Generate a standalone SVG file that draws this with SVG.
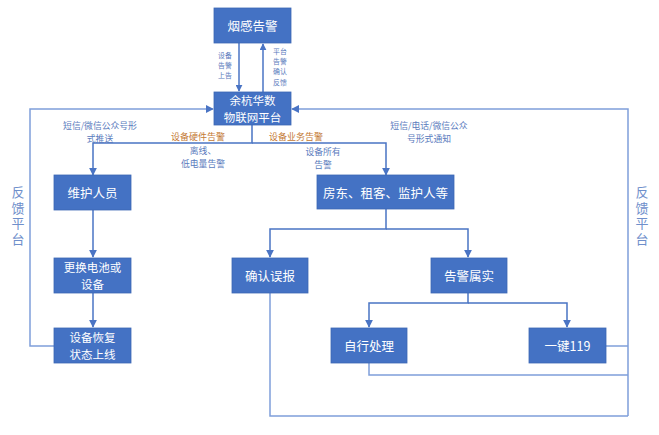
<svg xmlns="http://www.w3.org/2000/svg" width="659" height="435" viewBox="0 0 659 435">
<style>
.box{fill:#4472c4;stroke:#3d68b5;stroke-width:0.8}
.bt{font-family:"Noto Sans CJK SC","Noto Sans",sans-serif;font-size:12.5px;fill:#ffffff;text-anchor:middle;dominant-baseline:central}
.b2{font-family:"Noto Sans CJK SC","Noto Sans",sans-serif;font-size:11.5px;fill:#ffffff;text-anchor:middle;dominant-baseline:central}
.lb{font-family:"Noto Sans CJK SC","Noto Sans",sans-serif;font-size:8.8px;fill:#5a7bbd;text-anchor:middle;dominant-baseline:central}
.sm{font-family:"Noto Sans CJK SC","Noto Sans",sans-serif;font-size:6.9px;fill:#5a7bbd;text-anchor:middle;dominant-baseline:central}
.or{font-family:"Noto Sans CJK SC","Noto Sans",sans-serif;font-size:9px;fill:#c47a35;text-anchor:middle;dominant-baseline:central}
.side{font-family:"Noto Sans CJK SC","Noto Sans",sans-serif;font-size:13px;fill:#6f8fcb;letter-spacing:2.5px;writing-mode:vertical-rl}
.ln{fill:none;stroke:#4a74c4;stroke-width:1.5}
.fb{fill:none;stroke:#7f9fda;stroke-width:1.5}
</style>
<defs>
<marker id="ah" viewBox="0 0 10 10" refX="9" refY="5" markerWidth="7" markerHeight="7" markerUnits="userSpaceOnUse" orient="auto">
<path d="M0,0 L10,5 L0,10 z" fill="#4a74c4"/>
</marker>
<marker id="ah2" viewBox="0 0 10 10" refX="9" refY="5" markerWidth="8" markerHeight="8" markerUnits="userSpaceOnUse" orient="auto">
<path d="M0,0 L10,5 L0,10 z" fill="#4a74c4"/>
</marker>
</defs>
<g id="connectors">
<path class="ln" d="M239,43 V91" marker-end="url(#ah)"/>
<path class="ln" d="M263,92 V44" marker-end="url(#ah)"/>
<path class="ln" d="M252,125 V143 H93 V175" marker-end="url(#ah2)"/>
<path class="ln" d="M252,143 H386 V175" marker-end="url(#ah2)"/>
<path class="ln" d="M93,210 V257" marker-end="url(#ah2)"/>
<path class="ln" d="M93,293 V327" marker-end="url(#ah2)"/>
<path class="fb" d="M54,346 H30 V109 H213" marker-end="url(#ah2)"/>
<path class="fb" d="M628,416 V109 H292" marker-end="url(#ah2)"/>
<path class="ln" d="M386,209 V229 H270 V257" marker-end="url(#ah2)"/>
<path class="ln" d="M386,229 H468 V257" marker-end="url(#ah2)"/>
<path class="ln" d="M468,293 V303 H369 V327" marker-end="url(#ah2)"/>
<path class="ln" d="M468,303 H567 V327" marker-end="url(#ah2)"/>
<path class="fb" d="M270,293 V416 H628"/>
<path class="fb" d="M369,363 V375 H628"/>
<path class="fb" d="M606,346 H628"/>
</g>
<g id="n-smoke"><rect class="box" x="214" y="8" width="77" height="35"/><text class="bt" x="252.5" y="25.5">烟感告警</text></g>
<g id="n-platform"><rect class="box" x="214" y="92" width="77" height="33"/><text class="b2" x="252.5" y="100.2">余杭华数<tspan x="252.5" dy="16.8">物联网平台</tspan></text></g>
<g id="n-maint"><rect class="box" x="54" y="175" width="77" height="35"/><text class="bt" x="92.5" y="192.5">维护人员</text></g>
<g id="n-replace"><rect class="box" x="54" y="258" width="77" height="35"/><text class="b2" x="92.5" y="267.1">更换电池或<tspan x="92.5" dy="16.8">设备</tspan></text></g>
<g id="n-restore"><rect class="box" x="54" y="328" width="77" height="35"/><text class="b2" x="92.5" y="337.1">设备恢复<tspan x="92.5" dy="16.8">状态上线</tspan></text></g>
<g id="n-owner"><rect class="box" x="317" y="175" width="137" height="34"/><text class="bt" x="385.5" y="192">房东、租客、监护人等</text></g>
<g id="n-false"><rect class="box" x="232" y="258" width="76" height="35"/><text class="bt" x="270" y="275.5">确认误报</text></g>
<g id="n-true"><rect class="box" x="431" y="258" width="76" height="35"/><text class="bt" x="469" y="275.5">告警属实</text></g>
<g id="n-self"><rect class="box" x="331" y="328" width="76" height="35"/><text class="bt" x="369" y="345.5">自行处理</text></g>
<g id="n-119"><rect class="box" x="529" y="328" width="77" height="35"/><text class="bt" x="567.5" y="345.5">一键119</text></g>
<g id="labels">
<text class="sm" x="225" y="55">设备<tspan x="225" dy="10.2">告警</tspan><tspan x="225" dy="10.2">上告</tspan></text>
<text class="sm" x="280" y="51">平台<tspan x="280" dy="10.2">告警</tspan><tspan x="280" dy="10.2">确认</tspan><tspan x="280" dy="10.2">反馈</tspan></text>
<text class="lb" x="100" y="125.5">短信/微信公众号形<tspan x="100" dy="12.9">式推送</tspan></text>
<text class="or" x="198" y="136">设备硬件告警</text>
<text class="lb" x="203" y="150.5">离线、<tspan x="203" dy="12.9">低电量告警</tspan></text>
<text class="or" x="296" y="136">设备业务告警</text>
<text class="lb" x="323" y="151">设备所有<tspan x="323" dy="12.9">告警</tspan></text>
<text class="lb" x="429" y="125.5">短信/电话/微信公众<tspan x="429" dy="12.9">号形式通知</tspan></text>
<text class="side" x="18" y="186">反馈平台</text>
<text class="side" x="642" y="186">反馈平台</text>
</g>
</svg>
